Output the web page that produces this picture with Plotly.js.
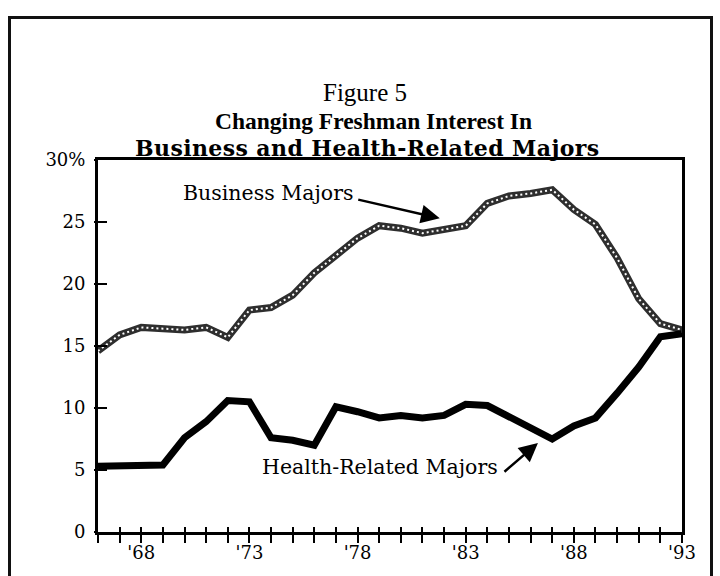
<!DOCTYPE html>
<html>
<head>
<meta charset="utf-8">
<script src="https://cdn.plot.ly/plotly-3.0.1.min.js"></script>
<style>
  html, body { margin: 0; padding: 0; background: #fff; }
  #wrap { position: relative; width: 720px; height: 576px; overflow: hidden; }
  #chart { width: 720px; height: 576px; }
  #frame { position: absolute; left: 8px; top: 16px; width: 699px; height: 620px;
           border: 3px solid #111; pointer-events: none; }
</style>
</head>
<body>
<div id="wrap">
  <div id="chart"></div>
  <div id="frame"></div>
</div>
<script>
// Years 1966-1993
const years = [1966,1967,1968,1969,1970,1971,1972,1973,1974,1975,1976,1977,1978,1979,
               1980,1981,1982,1983,1984,1985,1986,1987,1988,1989,1990,1991,1992,1993];
// Business majors (% of freshmen)
const business = [14.6,15.9,16.5,16.4,16.3,16.5,15.7,17.9,18.1,19.1,20.9,22.3,23.7,24.7,
                  24.5,24.1,24.4,24.7,26.5,27.1,27.3,27.6,26.0,24.8,22.1,18.8,16.8,16.3];
// Health-related majors (% of freshmen)
const health = [5.3,5.3,5.35,5.4,7.6,8.9,10.6,10.5,7.6,7.4,7.0,10.1,9.7,9.2,
                9.4,9.2,9.4,10.3,10.2,9.3,8.4,7.5,8.55,9.2,11.2,13.3,15.75,16.0];
const yTicks = [0,5,10,15,20,25,30];
const yTickText = ['0','5','10','15','20','25','30%'];
const xLabels = {1968:"'68",1973:"'73",1978:"'78",1983:"'83",1988:"'88",1993:"'93"};
const xTickText = years.map(y => xLabels[y] || '');

const serif = 'Liberation Serif, Times New Roman, serif';
const wide = 'DejaVu Serif, serif';

const traces = [
  { x: years, y: business, mode: 'lines', line: {color: '#2e2e2e', width: 7},
    hoverinfo: 'skip', showlegend: false },
  { x: years, y: business, mode: 'lines', line: {color: '#ffffff', width: 2, dash: '2px,3px'},
    xaxis: 'x2', yaxis: 'y2', hoverinfo: 'skip', showlegend: false },
  { x: years, y: health, mode: 'lines', line: {color: '#000000', width: 7},
    xaxis: 'x2', yaxis: 'y2', hoverinfo: 'skip', showlegend: false }
];

const layout = {
  width: 720, height: 576,
  margin: {l: 98, r: 38, t: 160, b: 44},
  paper_bgcolor: '#fff', plot_bgcolor: '#fff',
  font: {family: wide, color: '#000', size: 18},
  title: { text: 'Figure 5', font: {family: serif, size: 25, color: '#000'},
           x: 0.507, xref: 'container', xanchor: 'center',
           y: 1 - 92/576, yref: 'container', yanchor: 'middle' },
  xaxis: {
    range: [1966, 1993], tickmode: 'array', tickvals: years, ticktext: xTickText,
    ticks: 'outside', ticklen: 8, tickwidth: 2, tickcolor: '#000',
    showline: true, linewidth: 3, linecolor: '#000', mirror: true,
    showgrid: false, zeroline: false, tickfont: {family: wide, size: 18},
    ticklabelstandoff: -6, fixedrange: true
  },
  yaxis: {
    range: [0, 30], tickmode: 'array', tickvals: yTicks, ticktext: yTickText,
    ticks: 'inside', ticklen: 9, tickwidth: 2.5, tickcolor: '#000',
    showline: true, linewidth: 3, linecolor: '#000', mirror: true,
    showgrid: false, zeroline: false, tickfont: {family: wide, size: 18},
    ticklabelstandoff: 6, fixedrange: true
  },
  xaxis2: {
    overlaying: 'x', range: [1966, 1993], tickmode: 'array', tickvals: years,
    ticks: 'inside', ticklen: 5, tickwidth: 2, tickcolor: '#000',
    showticklabels: false, showline: false, showgrid: false, zeroline: false, fixedrange: true
  },
  yaxis2: {
    overlaying: 'y', side: 'left', range: [0, 30], tickmode: 'array', tickvals: yTicks,
    ticks: 'outside', ticklen: 3, tickwidth: 2.5, tickcolor: '#000',
    showticklabels: false, showline: false, showgrid: false, zeroline: false, fixedrange: true
  },
  annotations: [
    { xref: 'paper', yref: 'paper', x: (373-98)/584, y: (532-121)/372, xanchor: 'center', yanchor: 'middle',
      text: '<b>Changing Freshman Interest In</b>', showarrow: false,
      font: {family: serif, size: 23.5, color: '#000'} },
    { xref: 'paper', yref: 'paper', x: (367-98)/584, y: (532-148.5)/372, xanchor: 'center', yanchor: 'middle',
      text: '<b><span style="letter-spacing:0.4px">Business and Health-Related Majors</span></b>', showarrow: false,
      font: {family: wide, size: 22, color: '#000'} },
    { x: 1977.9, y: 27.34, xanchor: 'right', yanchor: 'middle', text: 'Business Majors',
      showarrow: false, font: {family: wide, size: 20.5, color: '#000'} },
    { x: 1981.8, y: 25.3, ax: -83, ay: -19, text: '', showarrow: true,
      arrowhead: 2, arrowsize: 1.5, arrowwidth: 2.5, arrowcolor: '#000', standoff: 0 },
    { x: 1984.6, y: 5.24, xanchor: 'right', yanchor: 'middle', text: 'Health-Related Majors',
      showarrow: false, font: {family: wide, size: 20.5, color: '#000'} },
    { x: 1986.34, y: 7.18, ax: -35, ay: 30, text: '', showarrow: true,
      arrowhead: 2, arrowsize: 1.5, arrowwidth: 2.5, arrowcolor: '#000', standoff: 0 }
  ]
};

Plotly.newPlot('chart', traces, layout, {displayModeBar: false, staticPlot: true});
</script>
</body>
</html>
